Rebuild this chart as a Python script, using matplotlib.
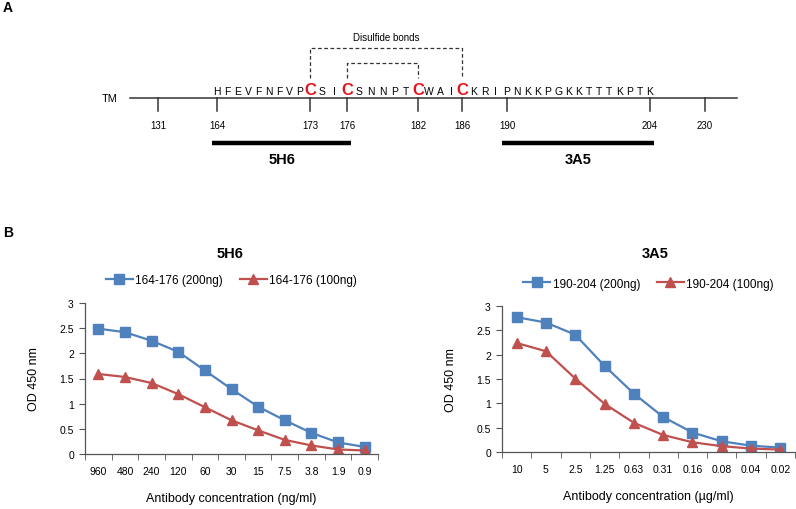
import numpy as np
import matplotlib.pyplot as plt

plt.rcParams['font.family'] = ['Liberation Sans', 'DejaVu Sans']

# Panel A: TM sequence map
tick_res = [131, 164, 173, 176, 182, 186, 190, 204, 230]
seq_start = 164
sequence = "HFEVFNFVPCSICSNNPTCWAICKRIPNKKPGKKTTTKPTK"
cys_res = [173, 176, 182, 186]
bonds = [(173, 186), (176, 182)]
epitopes = [("5H6", 164, 176), ("3A5", 190, 204)]

# Panel B: ELISA titration
conc_5h6 = ["960", "480", "240", "120", "60", "30", "15", "7.5", "3.8", "1.9", "0.9"]
od_5h6_200 = [2.49, 2.42, 2.25, 2.03, 1.66, 1.29, 0.94, 0.67, 0.42, 0.23, 0.14]
od_5h6_100 = [1.59, 1.53, 1.41, 1.19, 0.93, 0.67, 0.47, 0.28, 0.17, 0.09, 0.07]

conc_3a5 = ["10", "5", "2.5", "1.25", "0.63", "0.31", "0.16", "0.08", "0.04", "0.02"]
od_3a5_200 = [2.77, 2.66, 2.41, 1.77, 1.20, 0.72, 0.40, 0.22, 0.13, 0.09]
od_3a5_100 = [2.24, 2.07, 1.51, 0.99, 0.60, 0.35, 0.20, 0.12, 0.07, 0.05]

blue = '#4F81BD'
red = '#C0504D'

fig = plt.figure(figsize=(7.96, 5.10), dpi=100)

# overlay axes in pixel units for the diagram and panel labels
ov = fig.add_axes([0, 0, 1, 1])
ov.set_xlim(0, 796)
ov.set_ylim(510, 0)
ov.axis('off')

# diagram is not to scale: map residues to x through anchor points
anchor_px = [158, 217, 310, 347, 418, 462, 507, 650, 705]
def rx(r):
    return np.interp(r, tick_res, anchor_px)

line_y = 99
ov.plot([130, 737], [line_y, line_y], color='#333333', lw=1.1)
ov.text(110, line_y, "TM", ha='center', va='center', fontsize=8)
for r in tick_res:
    ov.plot([rx(r), rx(r)], [line_y, line_y + 13], color='#333333', lw=1.1)
    ov.text(rx(r), 126, str(r), ha='center', va='center', fontsize=7)

for i, aa in enumerate(sequence):
    r = seq_start + i
    if r in cys_res:
        ov.text(rx(r), 95, aa, ha='center', va='baseline', fontsize=12,
                fontweight='bold', color='#E8141B')
    else:
        ov.text(rx(r), 95, aa, ha='center', va='baseline', fontsize=7.5)

for (a, b), top in zip(bonds, [49, 64]):
    ov.plot([rx(a), rx(a), rx(b), rx(b)], [79, top, top, 79],
            color='#333333', lw=0.9, ls=(0, (3, 2)))
ov.text((rx(173) + rx(186)) / 2, 38, "Disulfide bonds", ha='center',
        va='center', fontsize=7)

for name, a, b in epitopes:
    ov.plot([rx(a) - 5, rx(b) + 4], [144, 144], color='black', lw=3.2,
            solid_capstyle='butt')
    ov.text((rx(a) + rx(b)) / 2, 160, name, ha='center', va='center',
            fontsize=10.5, fontweight='bold')

ov.text(8, 8, "A", ha='center', va='center', fontsize=10, fontweight='bold')
ov.text(8, 233, "B", ha='center', va='center', fontsize=10, fontweight='bold')


def elisa(rect, cats, hi, lo, pep, unit, title, title_x):
    ax = fig.add_axes(rect)
    ax.patch.set_alpha(0)
    x = np.arange(len(cats))
    ax.plot(x, hi, color=blue, lw=1.6, marker='s', ms=6.5,
            label=pep + " (200ng)")
    ax.plot(x, lo, color=red, lw=1.6, marker='^', ms=7,
            label=pep + " (100ng)")
    ax.set_xlim(-0.5, len(cats) - 0.5)
    ax.set_ylim(0, 3)
    ax.set_yticks(np.arange(0, 3.01, 0.5))
    ax.set_yticklabels(["0", "0.5", "1", "1.5", "2", "2.5", "3"])
    ax.set_xticks(x)
    ax.set_xticklabels(cats)
    ax.set_xticks(np.arange(-0.5, len(cats), 1.0), minor=True)
    ax.tick_params(axis='x', which='major', length=0, pad=9, labelsize=7.5)
    ax.tick_params(axis='x', which='minor', length=4, color='#555555')
    ax.tick_params(axis='y', length=4, color='#555555', labelsize=7.5, pad=4)
    for s in ['top', 'right']:
        ax.spines[s].set_visible(False)
    for s in ['left', 'bottom']:
        ax.spines[s].set_color('#555555')
        ax.spines[s].set_linewidth(0.9)
    ax.set_ylabel("OD 450 nm", fontsize=9, labelpad=14)
    ax.set_xlabel("Antibody concentration (" + unit + ")", fontsize=9,
                  labelpad=11)
    ax.legend(loc='lower center', bbox_to_anchor=(0.5, 1.04), ncol=2,
              frameon=False, fontsize=8.5, handlelength=2.3,
              columnspacing=1.4, handletextpad=0.2)
    ov.text(title_x, 254, title, ha='center', va='center', fontsize=10.5,
            fontweight='bold')
    return ax


elisa([85 / 796, 55 / 510, 293 / 796, 151 / 510], conc_5h6, od_5h6_200,
      od_5h6_100, "164-176", "ng/ml", "5H6", 230)
elisa([502 / 796, 57 / 510, 293 / 796, 146 / 510], conc_3a5, od_3a5_200,
      od_3a5_100, "190-204", "µg/ml", "3A5", 655)

fig.savefig("out.png", dpi=100)
